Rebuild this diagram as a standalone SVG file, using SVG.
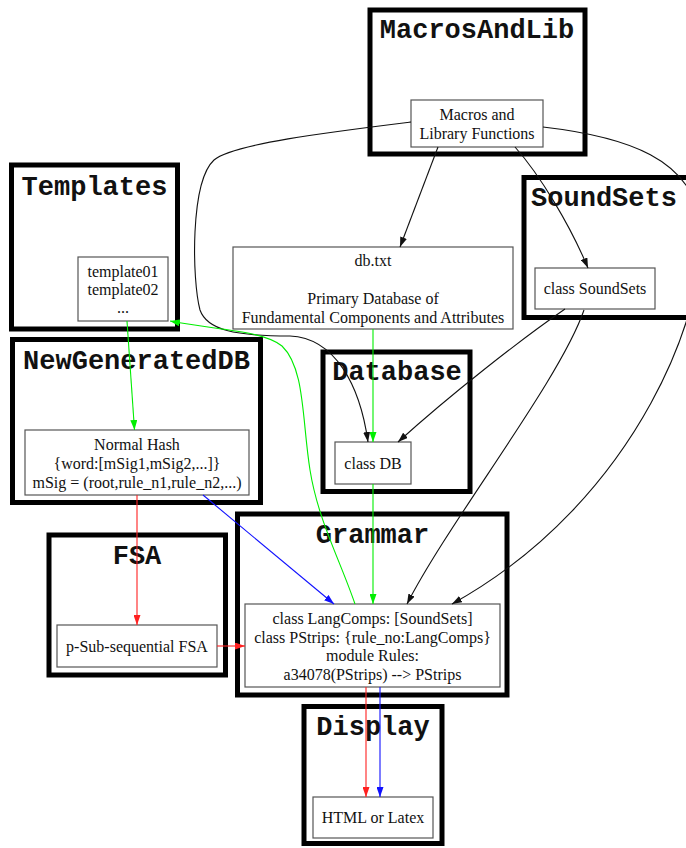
<svg xmlns="http://www.w3.org/2000/svg" width="686" height="848" viewBox="0 0 686 848">
  <style>
    .cluster { fill: none; stroke: #000; stroke-width: 5; }
    .box { fill: #fff; stroke: #555; stroke-width: 1.2; }
    .title { font-family: "Liberation Mono", "DejaVu Sans Mono", monospace; font-weight: bold; font-size: 27px; fill: #111; text-anchor: middle; }
    .label { font-family: "Liberation Serif", "Times New Roman", serif; font-size: 16px; fill: #111; text-anchor: middle; }
    .edge { fill: none; stroke-width: 1.1; }
    .k { stroke: #111; }
    .g { stroke: #00ee00; }
    .r { stroke: #ff2020; }
    .b { stroke: #1010ff; }
  </style>
  <defs>
    <marker id="ak" viewBox="0 0 10 7" refX="10" refY="3.5" markerWidth="10" markerHeight="7" markerUnits="userSpaceOnUse" orient="auto"><path d="M0,0 L10,3.5 L0,7 z" fill="#111"/></marker>
    <marker id="ag" viewBox="0 0 10 7" refX="10" refY="3.5" markerWidth="10" markerHeight="7" markerUnits="userSpaceOnUse" orient="auto"><path d="M0,0 L10,3.5 L0,7 z" fill="#00ee00"/></marker>
    <marker id="ar" viewBox="0 0 10 7" refX="10" refY="3.5" markerWidth="10" markerHeight="7" markerUnits="userSpaceOnUse" orient="auto"><path d="M0,0 L10,3.5 L0,7 z" fill="#ff2020"/></marker>
    <marker id="ab" viewBox="0 0 10 7" refX="10" refY="3.5" markerWidth="10" markerHeight="7" markerUnits="userSpaceOnUse" orient="auto"><path d="M0,0 L10,3.5 L0,7 z" fill="#1010ff"/></marker>
  </defs>
  <rect width="686" height="848" fill="#fff"/>

  <!-- clusters and their inner nodes -->
  <g id="MacrosAndLib">
    <rect class="cluster" x="370" y="10" width="215" height="144"/>
    <text class="title" x="477" y="38">MacrosAndLib</text>
    <rect class="box" x="411" y="100" width="132" height="47"/>
    <text class="label" x="477" y="120">Macros and</text>
    <text class="label" x="477" y="138.5">Library Functions</text>
  </g>

  <g id="Templates">
    <rect class="cluster" x="11.5" y="165" width="166" height="164"/>
    <text class="title" x="94.5" y="195">Templates</text>
    <rect class="box" x="78" y="257" width="90" height="64"/>
    <text class="label" x="123" y="277">template01</text>
    <text class="label" x="123" y="295">template02</text>
    <text class="label" x="123" y="313">...</text>
  </g>

  <g id="dbtxt">
    <rect class="box" x="233" y="247" width="280" height="82"/>
    <text class="label" x="373" y="266">db.txt</text>
    <text class="label" x="373" y="304">Primary Database of</text>
    <text class="label" x="373" y="323">Fundamental Components and Attributes</text>
  </g>

  <g id="SoundSets">
    <rect class="cluster" x="524" y="177.5" width="172" height="140"/>
    <text class="title" x="604" y="206">SoundSets</text>
    <rect class="box" x="535" y="268" width="120" height="41"/>
    <text class="label" x="595" y="294">class SoundSets</text>
  </g>

  <g id="NewGeneratedDB">
    <rect class="cluster" x="12.5" y="339.5" width="248" height="163"/>
    <text class="title" x="136.5" y="369">NewGeneratedDB</text>
    <rect class="box" x="25" y="430" width="224" height="65"/>
    <text class="label" x="137" y="450">Normal Hash</text>
    <text class="label" x="137" y="469">{word:[mSig1,mSig2,...]}</text>
    <text class="label" x="137" y="488">mSig = (root,rule_n1,rule_n2,...)</text>
  </g>

  <g id="Database">
    <rect class="cluster" x="323" y="352" width="147" height="139.5"/>
    <text class="title" x="397" y="380">Database</text>
    <rect class="box" x="335" y="442" width="76" height="42"/>
    <text class="label" x="373" y="469">class DB</text>
  </g>

  <g id="FSA">
    <rect class="cluster" x="49" y="535" width="176.5" height="140"/>
    <text class="title" x="137" y="564">FSA</text>
    <rect class="box" x="57" y="625" width="160" height="42"/>
    <text class="label" x="137" y="652">p-Sub-sequential FSA</text>
  </g>

  <g id="Grammar">
    <rect class="cluster" x="237.5" y="514" width="269.5" height="181"/>
    <text class="title" x="372.5" y="543">Grammar</text>
    <rect class="box" x="245" y="604" width="255" height="83"/>
    <text class="label" x="372.5" y="624">class LangComps: [SoundSets]</text>
    <text class="label" x="372.5" y="642.5">class PStrips: {rule_no:LangComps}</text>
    <text class="label" x="372.5" y="661">module Rules:</text>
    <text class="label" x="372.5" y="679.5">a34078(PStrips) --&gt; PStrips</text>
  </g>

  <g id="Display">
    <rect class="cluster" x="304" y="706.5" width="138" height="137"/>
    <text class="title" x="373" y="735">Display</text>
    <rect class="box" x="313" y="797" width="120" height="41"/>
    <text class="label" x="373" y="823">HTML or Latex</text>
  </g>

  <!-- connectors -->
  <g id="edges">
    <path class="edge k" d="M438,147 L400,247" marker-end="url(#ak)"/>
    <path class="edge k" d="M515,147 C540,175 570,225 588,268" marker-end="url(#ak)"/>
    <path class="edge k" d="M411,122 C330,132 232,144 214,160 C190,182 192,280 200,310 C207,330 235,336 290,336 C335,338 360,385 368,442" marker-end="url(#ak)"/>
    <path class="edge k" d="M543,127 C630,137 690,160 700,220 C712,300 640,500 452,604" marker-end="url(#ak)"/>
    <path class="edge k" d="M565,309 C520,340 450,395 398,442" marker-end="url(#ak)"/>
    <path class="edge k" d="M584,310 C560,380 450,520 407,604" marker-end="url(#ak)"/>

    <path class="edge g" d="M373,329 L373,442" marker-end="url(#ag)"/>
    <path class="edge g" d="M373,484 L373,604" marker-end="url(#ag)"/>
    <path class="edge g" d="M355,604 C340,560 318,520 310,470 C302,420 305,368 282,346 C262,330 215,330 170,321" marker-end="url(#ag)"/>
    <path class="edge g" d="M127,321 L134.5,430" marker-end="url(#ag)"/>

    <path class="edge r" d="M137,495 L137,625" marker-end="url(#ar)"/>
    <path class="edge r" d="M217,646 L245,646" marker-end="url(#ar)"/>
    <path class="edge r" d="M366,687 L366,797" marker-end="url(#ar)"/>

    <path class="edge b" d="M203,495 L334,604" marker-end="url(#ab)"/>
    <path class="edge b" d="M380,687 L380,797" marker-end="url(#ab)"/>
  </g>
</svg>
